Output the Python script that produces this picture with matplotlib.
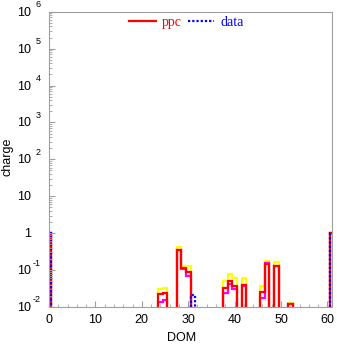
## charge per DOM, ppc simulation vs data

import numpy as np
import matplotlib.pyplot as plt
from matplotlib.lines import Line2D
from matplotlib.ticker import MultipleLocator, LogLocator, NullFormatter
from matplotlib.transforms import offset_copy

# bins are centred on the DOM number
n_bins = 62
doms = [0, 24, 25, 28, 29, 30, 38, 39, 40, 42, 46, 47, 49, 52, 61]
q_yellow = [1, 0.031, 0.033, 0.427, 0.131, 0.131, 0.0505, 0.077, 0.062, 0.062, 0.0377, 0.179, 0.162, 0.0125, 1]
q_magenta = [1, 0.0139, 0.0158, 0.35, 0.108, 0.068, 0.0234, 0.043, 0.031, 0.036, 0.0172, 0.160, 0.131, 0.012, 1]
q_ppc = [1, 0.022, 0.0244, 0.35, 0.111, 0.090, 0.032, 0.0505, 0.038, 0.0394, 0.026, 0.143, 0.131, 0.0123, 1]

doms_data = [0, 31, 61]
q_data = [1, 0.0207, 1]

decades = [6, 5, 4, 3, 2, 1, 0, -1, -2]

edges = np.arange(n_bins + 1) - 0.5
floor = 1e-5  # empty bins drop below the axis


def full(idx, vals):
    arr = np.full(n_bins, floor)
    arr[idx] = vals
    return arr


plt.rcParams['font.family'] = ['Liberation Sans', 'DejaVu Sans']
fig = plt.figure(figsize=(3.37, 3.44), dpi=100)
ax = fig.add_axes([49 / 337, 37 / 344, 283 / 337, 295.3 / 344])

lw = 1.6
dots = (0, (1, 0.9))
ax.stairs(full(doms, q_yellow), edges, baseline=floor, color='#ffff00', lw=lw)
ax.stairs(full(doms, q_magenta), edges, baseline=floor, color='#ff00ff', lw=lw)
ax.stairs(full(doms, q_ppc), edges, baseline=floor, color='#ff0000', lw=lw)
ax.stairs(full(doms_data, q_data), edges, baseline=floor, color='#0000ff', lw=lw,
          linestyle=dots)

ax.set_yscale('log')
ax.set_xlim(0, 61)
ax.set_ylim(1e-2, 1e6)

frame = '#a0a0a0'
for s in ax.spines.values():
    s.set_color(frame)
ax.xaxis.set_major_locator(MultipleLocator(10))
ax.xaxis.set_minor_locator(MultipleLocator(2))
ax.yaxis.set_major_locator(LogLocator(base=10, numticks=20))
ax.yaxis.set_minor_locator(LogLocator(base=10, subs=np.arange(2, 10), numticks=20))
ax.yaxis.set_major_formatter(NullFormatter())
ax.yaxis.set_minor_formatter(NullFormatter())
ax.tick_params(axis='both', which='both', direction='in', color=frame, labelsize=9)
ax.tick_params(axis='x', which='major', length=4, pad=5)
ax.tick_params(axis='x', which='minor', length=2)
ax.tick_params(axis='y', which='major', length=4)
ax.tick_params(axis='y', which='minor', length=2)

# y labels drawn as "10" with a raised exponent
ytr = ax.get_yaxis_transform()
base_tr = offset_copy(ytr, fig=fig, x=-17.5, y=-1, units='dots')
sup_tr = offset_copy(ytr, fig=fig, x=-8.5, y=7, units='dots')
for d in decades:
    if d == 0:
        ax.text(0, 1, '1', transform=base_tr, ha='right', va='center', fontsize=9)
    elif d == 1:
        ax.text(0, 10, '10', transform=base_tr, ha='right', va='center', fontsize=9)
    else:
        ax.text(0, 10.0 ** d, '10', transform=base_tr, ha='right', va='center', fontsize=9)
        ax.text(0, 10.0 ** d, str(d), transform=sup_tr, ha='right', va='center', fontsize=6.5)

ax.text(0.47, -0.105, 'DOM', transform=ax.transAxes, ha='center', va='center', fontsize=9)
ax.text(-0.147, 0.51, 'charge', transform=ax.transAxes, ha='center', va='center',
        rotation=90, fontsize=9)

handles = [Line2D([], [], color='#ff0000', lw=lw),
           Line2D([], [], color='#0000ff', lw=lw, linestyle=dots)]
ax.legend(handles, ['ppc', 'data'], loc='center', bbox_to_anchor=(0.486, 0.963), ncol=2,
          frameon=False, prop={'family': 'Liberation Serif', 'size': 10},
          labelcolor=['#ff0000', '#0000ff'], handlelength=1.9, handletextpad=0.45,
          columnspacing=0.4, borderpad=0, borderaxespad=0)

fig.savefig('out.png', dpi=100)
